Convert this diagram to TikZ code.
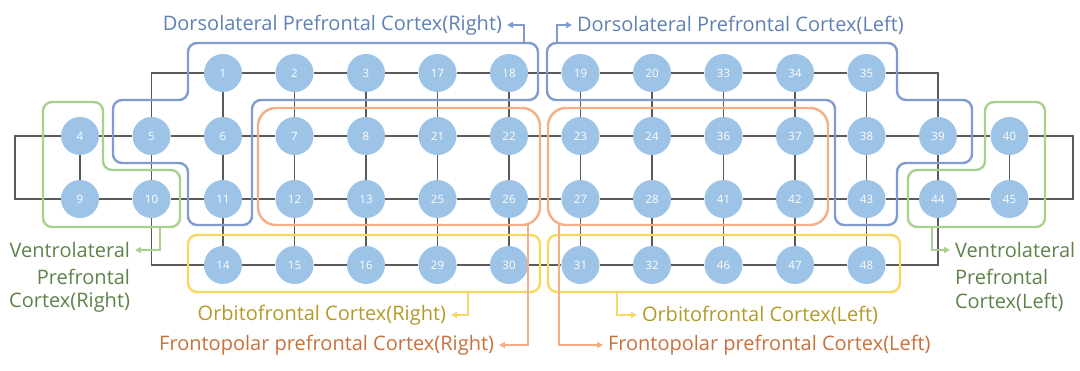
\documentclass[tikz,border=0pt]{standalone}
\usepackage{fontspec}
\setmainfont{Open Sans}
\usetikzlibrary{arrows.meta}
\definecolor{nodefill}{HTML}{9DC3E6}
\definecolor{gridline}{HTML}{5A5A5A}
\definecolor{bluebox}{HTML}{7F9BD0}
\definecolor{bluetext}{HTML}{5F80B3}
\definecolor{orbox}{HTML}{F2AE85}
\definecolor{ortext}{HTML}{C8703C}
\definecolor{yelbox}{HTML}{F8D85E}
\definecolor{yeltext}{HTML}{B39A25}
\definecolor{grnbox}{HTML}{A9D18E}
\definecolor{grntext}{HTML}{5E8249}
\tikzset{
  dot/.style={circle, fill=nodefill, draw=none, minimum size=38pt, inner sep=0pt,
    text=white, font=\fontsize{11.5}{11.5}\selectfont},
  grid/.style={draw=gridline, line width=1.5pt},
  region/.style={line width=2.4pt, rounded corners=9pt},
  leader/.style={line width=1.8pt, -{Triangle[length=6pt,width=6pt]}},
  lbl/.style={inner sep=0pt, outer sep=5pt, font=\fontsize{20}{24}\selectfont},
}
\begin{document}
\begin{tikzpicture}[x=1pt,y=-1pt]
\useasboundingbox (0,0) rectangle (1080,371);
% nodes
\foreach \n [count=\i from 2] in {1,2,3,17,18,19,20,33,34,35}
  \node[dot] (n\n) at ({80+71.5*\i},73) {\n};
\foreach \n [count=\i from 0] in {4,5,6,7,8,21,22,23,24,36,37,38,39,40}
  \node[dot] (n\n) at ({80+71.5*\i},136) {\n};
\foreach \n [count=\i from 0] in {9,10,11,12,13,25,26,27,28,41,42,43,44,45}
  \node[dot] (n\n) at ({80+71.5*\i},199) {\n};
\foreach \n [count=\i from 2] in {14,15,16,29,30,31,32,46,47,48}
  \node[dot] (n\n) at ({80+71.5*\i},265) {\n};
\coordinate (L2) at (15,136);
\coordinate (L3) at (15,199);
\coordinate (R2) at (1073,136);
\coordinate (R3) at (1073,199);
% grid edges
\foreach \a/\b in {1/2,2/3,3/17,17/18,18/19,19/20,20/33,33/34,34/35,
  4/5,5/6,6/7,7/8,8/21,21/22,22/23,23/24,24/36,36/37,37/38,38/39,39/40,
  9/10,10/11,11/12,12/13,13/25,25/26,26/27,27/28,28/41,41/42,42/43,43/44,44/45,
  14/15,15/16,16/29,29/30,30/31,31/32,32/46,46/47,47/48,
  1/6,2/7,3/8,17/21,18/22,19/23,20/24,33/36,34/37,35/38,
  4/9,5/10,6/11,7/12,8/13,21/25,22/26,23/27,24/28,36/41,37/42,38/43,39/44,40/45,
  11/14,12/15,13/16,25/29,26/30,27/31,28/32,41/46,42/47,43/48}
  \draw[grid] (n\a) -- (n\b);
\draw[grid] (n5) |- (n1);
\draw[grid] (n35) -| (n39);
\draw[grid] (n10) |- (n14);
\draw[grid] (n48) -| (n44);
\draw[grid] (n4) -- (L2) -- (L3) -- (n9);
\draw[grid] (n40) -- (R2) -- (R3) -- (n45);
% regions
\draw[region, draw=bluebox] (300,43) -- (538,43) -- (538,100) -- (252,100) -- (252,225) -- (188,225) -- (188,163) -- (113,163) -- (113,100) -- (188,100) -- (188,43) -- cycle;
\draw[region, draw=bluebox] (700,43) -- (897,43) -- (897,100) -- (972,100) -- (972,163) -- (897,163) -- (897,225) -- (835,225) -- (835,100) -- (547,100) -- (547,43) -- cycle;
\draw[region, draw=orbox, rounded corners=18pt] (258,108) rectangle (540,225);
\draw[region, draw=orbox, rounded corners=18pt] (548,108) rectangle (828,225);
\draw[region, draw=yelbox] (188,235) rectangle (540,292);
\draw[region, draw=yelbox] (548,235) rectangle (900,292);
\draw[region, draw=grnbox] (70,102) -- (103,102) -- (103,170) -- (180,170) -- (180,227) -- (43,227) -- (43,102) -- cycle;
\draw[region, draw=grnbox] (1018,102) -- (985,102) -- (985,170) -- (908,170) -- (908,227) -- (1045,227) -- (1045,102) -- cycle;
% labels
\node[lbl, text=bluetext, anchor=east] (dlr) at (507,25) {Dorsolateral Prefrontal Cortex(Right)};
\node[lbl, text=bluetext, anchor=west] (dll) at (572,25) {Dorsolateral Prefrontal Cortex(Left)};
\node[lbl, text=yeltext, anchor=east] (ofr) at (451,315) {Orbitofrontal Cortex(Right)};
\node[lbl, text=yeltext, anchor=west] (ofl) at (637,315) {Orbitofrontal Cortex(Left)};
\node[lbl, text=ortext, anchor=east] (fpr) at (499,345) {Frontopolar prefrontal Cortex(Right)};
\node[lbl, text=ortext, anchor=west] (fpl) at (603,345) {Frontopolar prefrontal Cortex(Left)};
\node[lbl, text=grntext, anchor=east] (vlr) at (135,250) {Ventrolateral};
\node[lbl, text=grntext, anchor=east] (vlr2) at (135,277) {Prefrontal};
\node[lbl, text=grntext, anchor=east] (vlr3) at (135,302) {Cortex(Right)};
\node[lbl, text=grntext, anchor=west] (vll) at (950,250) {Ventrolateral};
\node[lbl, text=grntext, anchor=west] (vll2) at (950,277) {Prefrontal};
\node[lbl, text=grntext, anchor=west] (vll3) at (950,302) {Cortex(Left)};
% leaders
\coordinate (dlrA) at (524,43);
\coordinate (dllA) at (557,43);
\coordinate (ofrA) at (468,292);
\coordinate (oflA) at (617,292);
\coordinate (fprA) at (528,224);
\coordinate (fplA) at (559,224);
\coordinate (vlrA) at (160,227);
\coordinate (vllA) at (932,227);
\draw[leader, bluebox] (dlrA) |- (dlr);
\draw[leader, bluebox] (dllA) |- (dll);
\draw[leader, yelbox] (ofrA) |- (ofr);
\draw[leader, yelbox] (oflA) |- (ofl);
\draw[leader, orbox] (fprA) |- (fpr);
\draw[leader, orbox] (fplA) |- (fpl);
\draw[leader, grnbox] (vlrA) |- (vlr);
\draw[leader, grnbox] (vllA) |- (vll);
\end{tikzpicture}
\end{document}
